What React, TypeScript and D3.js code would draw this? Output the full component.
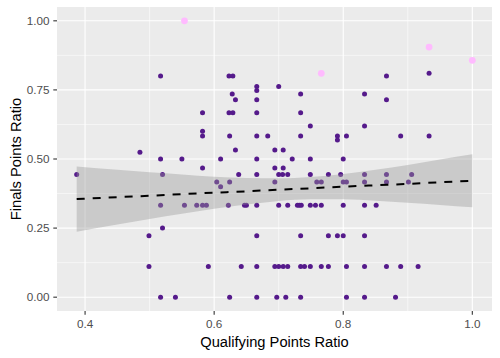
import React from 'react';
import * as d3 from 'd3';

// purple points: qualifying ratio (x) and finals ratio (y), grouped by finals level
const purpleX = [
  0.517, 0.623, 0.629, 0.867,
  0.933,
  0.666, 0.700,
  0.666,
  0.628, 0.734, 0.833,
  0.633, 0.666, 0.867,
  0.582, 0.623, 0.629, 0.666, 0.734,
  0.749, 0.833,
  0.582,
  0.582, 0.624, 0.666, 0.683, 0.734, 0.791, 0.805, 0.889, 0.933,
  0.791,
  0.633, 0.694, 0.707,
  0.485,
  0.517, 0.550, 0.610, 0.666, 0.721, 0.749, 0.800,
  0.582, 0.694, 0.707,
  0.387, 0.520, 0.638, 0.666, 0.700, 0.706, 0.714, 0.749, 0.777, 0.796, 0.833, 0.867, 0.906,
  0.604, 0.624, 0.694, 0.759, 0.766, 0.800, 0.805, 0.833, 0.867, 0.901,
  0.610,
  0.517, 0.554, 0.573, 0.582, 0.588, 0.622, 0.647, 0.650, 0.666, 0.700,
  0.714, 0.729, 0.732, 0.735, 0.749, 0.757, 0.766, 0.800, 0.833, 0.851,
  0.520,
  0.499, 0.666, 0.734, 0.777, 0.791, 0.800, 0.833,
  0.499, 0.591, 0.642, 0.666, 0.694, 0.700, 0.707, 0.714, 0.734,
  0.740, 0.749, 0.766, 0.777, 0.805, 0.833, 0.867, 0.889, 0.916,
  0.517, 0.540, 0.624, 0.666, 0.697, 0.711, 0.734, 0.805, 0.833, 0.881,
];
const purpleY = [
  0.8, 0.8, 0.8, 0.8,
  0.81,
  0.762, 0.762,
  0.748,
  0.735, 0.735, 0.735,
  0.714, 0.714, 0.714,
  0.667, 0.667, 0.667, 0.667, 0.667,
  0.619, 0.619,
  0.6,
  0.583, 0.583, 0.583, 0.583, 0.583, 0.583, 0.583, 0.583, 0.583,
  0.569,
  0.533, 0.533, 0.533,
  0.524,
  0.5, 0.5, 0.5, 0.5, 0.5, 0.5, 0.5,
  0.467, 0.467, 0.467,
  0.444, 0.444, 0.444, 0.444, 0.444, 0.444, 0.444, 0.444, 0.444, 0.444, 0.444, 0.444, 0.444,
  0.417, 0.417, 0.417, 0.417, 0.417, 0.417, 0.417, 0.417, 0.417, 0.417,
  0.4,
  0.333, 0.333, 0.333, 0.333, 0.333, 0.333, 0.333, 0.333, 0.333, 0.333,
  0.333, 0.333, 0.333, 0.333, 0.333, 0.333, 0.333, 0.333, 0.333, 0.333,
  0.25,
  0.222, 0.222, 0.222, 0.222, 0.222, 0.222, 0.222,
  0.111, 0.111, 0.111, 0.111, 0.111, 0.111, 0.111, 0.111, 0.111,
  0.111, 0.111, 0.111, 0.111, 0.111, 0.111, 0.111, 0.111, 0.111,
  0, 0, 0, 0, 0, 0, 0, 0, 0, 0,
];

// highlighted (pink) points
const pinkX = [0.554, 0.766, 0.933, 1.0];
const pinkY = [1.0, 0.81, 0.905, 0.857];

// linear smooth with confidence band
const smoothX = [0.387, 0.45, 0.5, 0.55, 0.6, 0.65, 0.7, 0.75, 0.8, 0.85, 0.9, 0.95, 1.0];
const smoothFit = [0.355, 0.362, 0.367, 0.373, 0.378, 0.383, 0.389, 0.394, 0.4, 0.405, 0.41, 0.416, 0.421];
const smoothLow = [0.237, 0.263, 0.283, 0.302, 0.32, 0.335, 0.348, 0.354, 0.354, 0.349, 0.342, 0.334, 0.325];
const smoothHigh = [0.473, 0.461, 0.452, 0.444, 0.436, 0.431, 0.43, 0.435, 0.446, 0.461, 0.478, 0.498, 0.517];

const xTicks = [0.4, 0.6, 0.8, 1.0];
const xMinor = [0.5, 0.7, 0.9];
const yTicks = [0, 0.25, 0.5, 0.75, 1.0];
const yMinor = [0.125, 0.375, 0.625, 0.875];

const W = 500, H = 358;
const panel = { left: 57, right: 492, top: 7, bottom: 311 };
const font = '"Liberation Sans", Arial, sans-serif';

export default function App() {
  const x = d3.scaleLinear().domain([0.3565, 1.0305]).range([panel.left, panel.right]);
  const y = d3.scaleLinear().domain([-0.05, 1.05]).range([panel.bottom, panel.top]);

  const band = d3.area<number>()
    .x((_, i) => x(smoothX[i]))
    .y0((_, i) => y(smoothLow[i]))
    .y1((_, i) => y(smoothHigh[i]))
    .curve(d3.curveMonotoneX);
  const fitLine = d3.line<number>()
    .x((_, i) => x(smoothX[i]))
    .y((d) => y(d))
    .curve(d3.curveMonotoneX);

  return (
    <svg width={W} height={H} style={{ position: 'absolute', left: 0, top: 0, background: '#fff' }}>
      <rect x={panel.left} y={panel.top} width={panel.right - panel.left} height={panel.bottom - panel.top} fill="#EBEBEB" />
      {xMinor.map((t) => (
        <line key={'xm' + t} x1={x(t)} x2={x(t)} y1={panel.top} y2={panel.bottom} stroke="#fff" strokeWidth={0.55} />
      ))}
      {yMinor.map((t) => (
        <line key={'ym' + t} y1={y(t)} y2={y(t)} x1={panel.left} x2={panel.right} stroke="#fff" strokeWidth={0.55} />
      ))}
      {xTicks.map((t) => (
        <line key={'xg' + t} x1={x(t)} x2={x(t)} y1={panel.top} y2={panel.bottom} stroke="#fff" strokeWidth={1.1} />
      ))}
      {yTicks.map((t) => (
        <line key={'yg' + t} y1={y(t)} y2={y(t)} x1={panel.left} x2={panel.right} stroke="#fff" strokeWidth={1.1} />
      ))}

      {purpleX.map((v, i) => (
        <circle key={'p' + i} cx={x(v)} cy={y(purpleY[i])} r={2.5} fill="#551A8B" />
      ))}
      {pinkX.map((v, i) => (
        <circle key={'k' + i} cx={x(v)} cy={y(pinkY[i])} r={3.4} fill="#FFBBFF" />
      ))}

      <path d={band(smoothFit) || ''} fill="#999999" fillOpacity={0.4} />
      <path d={fitLine(smoothFit) || ''} fill="none" stroke="#000" strokeWidth={2} strokeDasharray="8,8" />

      {xTicks.map((t) => (
        <g key={'xt' + t}>
          <line x1={x(t)} x2={x(t)} y1={panel.bottom} y2={panel.bottom + 3.7} stroke="#333" strokeWidth={1.1} />
          <text x={x(t)} y={panel.bottom + 17} textAnchor="middle" fontFamily={font} fontSize={11.7} fill="#4D4D4D">
            {d3.format('.1f')(t)}
          </text>
        </g>
      ))}
      {yTicks.map((t) => (
        <g key={'yt' + t}>
          <line x1={panel.left - 3.7} x2={panel.left} y1={y(t)} y2={y(t)} stroke="#333" strokeWidth={1.1} />
          <text x={panel.left - 7.5} y={y(t) + 4.1} textAnchor="end" fontFamily={font} fontSize={11.7} fill="#4D4D4D">
            {d3.format('.2f')(t)}
          </text>
        </g>
      ))}

      <text x={(panel.left + panel.right) / 2} y={347} textAnchor="middle" fontFamily={font} fontSize={14.7} fill="#000">
        Qualifying Points Ratio
      </text>
      <text transform={`translate(20.5,${(panel.top + panel.bottom) / 2}) rotate(-90)`} textAnchor="middle" fontFamily={font} fontSize={14.7} fill="#000">
        Finals Points Ratio
      </text>
    </svg>
  );
}
